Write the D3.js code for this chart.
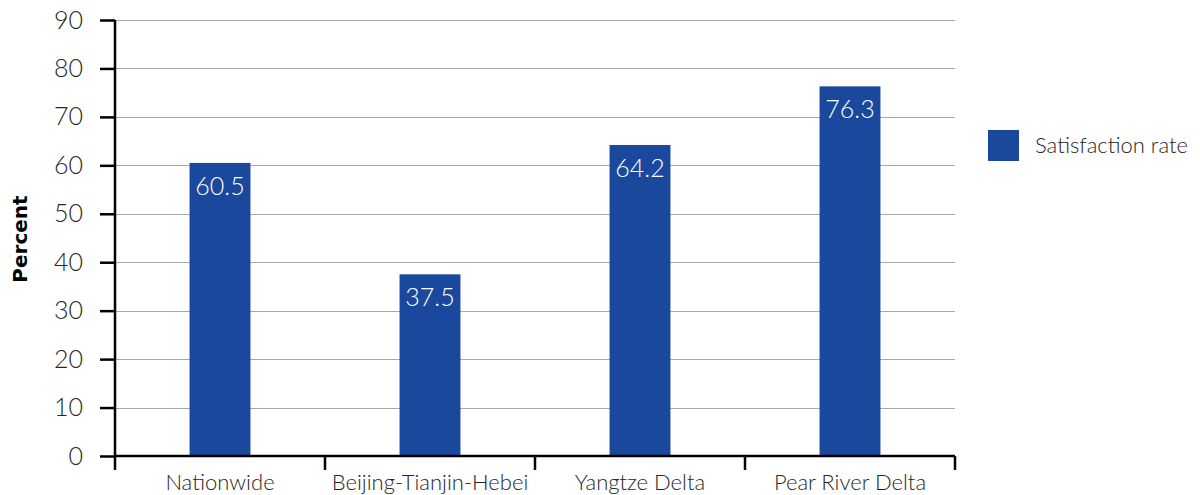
<!DOCTYPE html>
<html>
<head>
<meta charset="utf-8">
<script src="https://cdn.jsdelivr.net/npm/d3@7"></script>
<style>
  html, body { margin: 0; padding: 0; background: #fff; }
  svg { display: block; font-family: "Lato", "Open Sans", sans-serif; }
</style>
</head>
<body>
<svg id="chart" width="1200" height="495"></svg>
<script>
// Satisfaction rate by region (percent)
const categories = ["Nationwide", "Beijing-Tianjin-Hebei", "Yangtze Delta", "Pear River Delta"];
const satisfaction = [60.5, 37.5, 64.2, 76.3];
const yTicks = [0, 10, 20, 30, 40, 50, 60, 70, 80, 90];
const seriesName = "Satisfaction rate";
const axisTitle = "Percent";

const barColor = "#1a489d";
const textColor = "#262626";

const svg = d3.select("#chart");
const plot = { left: 115, right: 955, top: 20, bottom: 456 };

const x = d3.scaleBand()
  .domain(categories)
  .range([plot.left, plot.right])
  .paddingInner(0.71)
  .paddingOuter(0.355);

const xBand = d3.scaleBand()
  .domain(categories)
  .range([plot.left, plot.right]);

const y = d3.scaleLinear()
  .domain([0, 90])
  .range([plot.bottom, plot.top]);

// horizontal gridlines
svg.append("g")
  .selectAll("line")
  .data(yTicks)
  .join("line")
  .attr("x1", plot.left)
  .attr("x2", plot.right)
  .attr("y1", d => Math.round(y(d)) + 0.5)
  .attr("y2", d => Math.round(y(d)) + 0.5)
  .attr("stroke", "#a8a8a8")
  .attr("stroke-width", 1);

// bars
const data = categories.map((c, i) => ({ c, v: satisfaction[i] }));
svg.append("g")
  .selectAll("rect")
  .data(data)
  .join("rect")
  .attr("x", d => x(d.c))
  .attr("width", x.bandwidth())
  .attr("y", d => y(d.v))
  .attr("height", d => y(0) - y(d.v))
  .attr("fill", barColor);

// value labels inside bar tops
svg.append("g")
  .selectAll("text")
  .data(data)
  .join("text")
  .attr("x", d => x(d.c) + x.bandwidth() / 2)
  .attr("y", d => y(d.v) + 32)
  .attr("text-anchor", "middle")
  .attr("fill", "#fff")
  .attr("font-size", 25)
  .attr("font-weight", 300)
  .text(d => d.v.toFixed(1));

// y axis
const yAxis = svg.append("g")
  .attr("transform", `translate(${plot.left},0)`)
  .call(d3.axisLeft(y).tickValues(yTicks).tickSize(15).tickPadding(17));
yAxis.select(".domain").attr("stroke", "#000").attr("stroke-width", 2.5)
  .attr("d", `M0,${plot.top}V${plot.bottom}`);
yAxis.selectAll(".tick line").attr("stroke", "#000").attr("stroke-width", 2.5);
yAxis.selectAll(".tick text")
  .attr("font-size", 25)
  .attr("font-weight", 300)
  .attr("fill", textColor)
  .attr("font-family", "Lato, sans-serif");

// x axis: ticks at category boundaries
const xAxis = svg.append("g")
  .attr("transform", `translate(0,${plot.bottom})`);
xAxis.append("line")
  .attr("x1", plot.left).attr("x2", plot.right)
  .attr("y1", 0).attr("y2", 0)
  .attr("stroke", "#000").attr("stroke-width", 2.5);
const bounds = categories.map(c => xBand(c)).concat([xBand(categories[categories.length - 1]) + xBand.bandwidth()]);
xAxis.selectAll("line.tk")
  .data(bounds)
  .join("line")
  .attr("class", "tk")
  .attr("x1", d => d).attr("x2", d => d)
  .attr("y1", 0).attr("y2", 14)
  .attr("stroke", "#000").attr("stroke-width", 2.5);
xAxis.selectAll("text")
  .data(categories)
  .join("text")
  .attr("x", c => xBand(c) + xBand.bandwidth() / 2)
  .attr("y", 34)
  .attr("text-anchor", "middle")
  .attr("font-size", 22)
  .attr("font-weight", 300)
  .attr("fill", textColor)
  .text(c => c);

// y axis title
svg.append("text")
  .attr("transform", `translate(27,239) rotate(-90)`)
  .attr("text-anchor", "middle")
  .attr("font-size", 20)
  .attr("font-weight", 700)
  .attr("font-family", "DejaVu Sans, sans-serif")
  .attr("fill", "#000")
  .text(axisTitle);

// legend
const legend = svg.append("g").attr("transform", "translate(988,130)");
legend.append("rect").attr("width", 31).attr("height", 31).attr("fill", barColor);
legend.append("text")
  .attr("x", 47).attr("y", 23)
  .attr("font-size", 22)
  .attr("font-weight", 300)
  .attr("fill", textColor)
  .text(seriesName);
</script>
</body>
</html>
